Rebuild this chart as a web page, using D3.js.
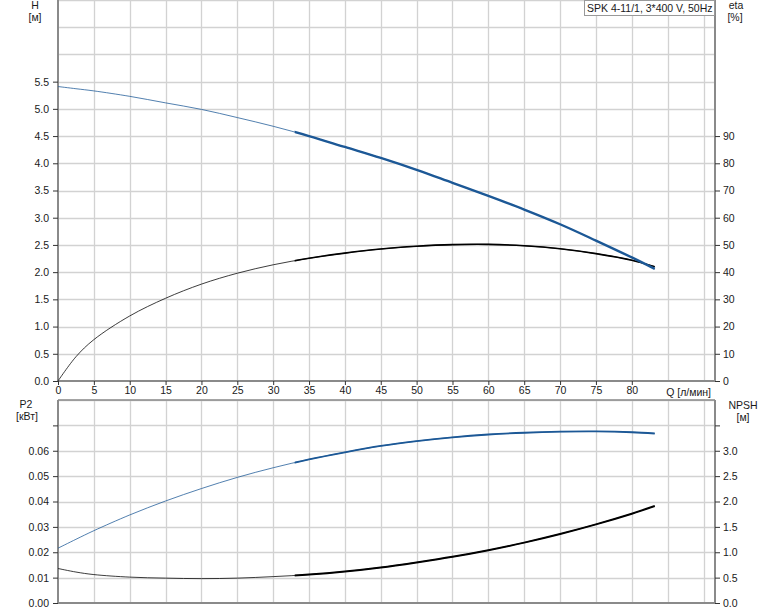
<!DOCTYPE html>
<html><head><meta charset="utf-8">
<script src="https://cdn.jsdelivr.net/npm/d3@7"></script>
<style>
html,body{margin:0;padding:0;background:#fff;}
svg{display:block;font-family:"Liberation Sans",Arial,sans-serif;}
</style></head>
<body>
<svg id="chart" width="774" height="611"></svg>
<script>
// ---- data ----
const flowQ = [0,2.5,5,10,15,20,25,30,35,40,45,50,55,60,65,70,75,80,83.2];
const headH = [5.41,5.37,5.33,5.23,5.11,4.99,4.84,4.68,4.50,4.30,4.10,3.88,3.64,3.40,3.15,2.88,2.58,2.27,2.06];
const effEta = [0,8.9,15.2,23.9,30.4,35.6,39.6,42.7,45.1,47.0,48.5,49.5,50.1,50.2,49.7,48.6,46.8,44.4,42.0];
const powerP2 = [0.0216,0.0251,0.0285,0.0347,0.0402,0.0451,0.0495,0.0533,0.0566,0.0594,0.0619,0.0638,0.0653,0.0664,0.0671,0.0675,0.0676,0.0673,0.0668];
const npshR = [0.68,0.61,0.56,0.51,0.49,0.48,0.49,0.52,0.56,0.62,0.70,0.80,0.91,1.04,1.19,1.36,1.55,1.76,1.91];
const qTicks = [0,5,10,15,20,25,30,35,40,45,50,55,60,65,70,75,80];
const qGrid = [5,10,15,20,25,30,35,40,45,50,55,60,65,70,75,80,85,90];
const hTicks = [0,0.5,1,1.5,2,2.5,3,3.5,4,4.5,5,5.5];
const hGrid = [0.5,1,1.5,2,2.5,3,3.5,4,4.5,5,5.5,6,6.5,7];
const etaTicks = [0,10,20,30,40,50,60,70,80,90];
const p2Ticks = [0,0.01,0.02,0.03,0.04,0.05,0.06,0.07];
const p2Labels = [0,0.01,0.02,0.03,0.04,0.05,0.06];
const npshTicks = [0,0.5,1,1.5,2,2.5,3,3.5];
const npshLabels = [0,0.5,1,1.5,2,2.5,3];
const legendText = "SPK 4-11/1, 3*400 V, 50Hz";
const qBestStart = 33;

const FS = "10.5px";
const svg = d3.select("#chart");
const L = 58, R = 715;
const x = d3.scaleLinear().domain([0,91.6]).range([L,R]);
const yH = d3.scaleLinear().domain([0,7]).range([381,0]);
const yEta = d3.scaleLinear().domain([0,140]).range([381,0]);
const yP = d3.scaleLinear().domain([0,0.08]).range([603,400]);
const yN = d3.scaleLinear().domain([0,4]).range([603,400]);

const gridCol = "#d2d2d2", axisCol = "#8a8a8a", txt = "#1a1a1a";

function panel(yTop, yBot, hGridVals, yScale){
  const g = svg.append("g");
  g.selectAll(".vg").data(qGrid).enter().append("line")
    .attr("x1",d=>Math.round(x(d))+0.5).attr("x2",d=>Math.round(x(d))+0.5)
    .attr("y1",yTop).attr("y2",yBot).attr("stroke",gridCol).attr("stroke-width",1.3);
  g.selectAll(".hg").data(hGridVals).enter().append("line")
    .attr("x1",L).attr("x2",R)
    .attr("y1",d=>Math.round(yScale(d))+0.5).attr("y2",d=>Math.round(yScale(d))+0.5)
    .attr("stroke",gridCol).attr("stroke-width",1.3);
  return g;
}
panel(0,381,hGrid,yH);
panel(400,603,[0.01,0.02,0.03,0.04,0.05,0.06,0.07,0.08],yP);

function axisStyle(g){
  g.selectAll("path").attr("stroke",axisCol).attr("stroke-width",2);
  g.selectAll("line").attr("stroke","#333");
  g.selectAll("text").attr("fill",txt).style("font-size",FS).style("font-family","Liberation Sans, Arial, sans-serif");
}
svg.append("g").attr("transform",`translate(${L},0)`)
  .call(d3.axisLeft(yH).tickValues(hTicks).tickFormat(d3.format(".1f")).tickSizeOuter(0).tickSize(5).tickPadding(4))
  .call(axisStyle).call(g=>g.select("path").attr("d","M0,0V381"));
svg.append("g").attr("transform",`translate(${R},0)`)
  .call(d3.axisRight(yEta).tickValues(etaTicks).tickFormat(d3.format("d")).tickSizeOuter(0).tickSize(5).tickPadding(3))
  .call(axisStyle).call(g=>g.select("path").attr("d","M0,0V381"));
svg.append("g").attr("transform","translate(0,381)")
  .call(d3.axisBottom(x).tickValues(qTicks).tickFormat(d3.format("d")).tickSizeOuter(0).tickSize(4).tickPadding(2))
  .call(axisStyle).call(g=>g.select("path").attr("d",`M${L},0H${R}`));
svg.append("text").attr("x",711).attr("y",396).attr("text-anchor","end")
  .attr("fill",txt).style("font-size",FS).text("Q [л/мин]");
svg.append("g").attr("transform",`translate(${L},0)`)
  .call(d3.axisLeft(yP).tickValues(p2Ticks).tickFormat(d=>p2Labels.includes(d)?d3.format(".2f")(d):"").tickSizeOuter(0).tickSize(5).tickPadding(4))
  .call(axisStyle).call(g=>g.select("path").attr("d","M0,400V603"));
svg.append("g").attr("transform",`translate(${R},0)`)
  .call(d3.axisRight(yN).tickValues(npshTicks).tickFormat(d=>npshLabels.includes(d)?d3.format(".1f")(d):"").tickSizeOuter(0).tickSize(5).tickPadding(3))
  .call(axisStyle).call(g=>g.select("path").attr("d","M0,400V603"));
svg.append("line").attr("x1",L).attr("x2",R).attr("y1",400).attr("y2",400).attr("stroke",axisCol).attr("stroke-width",1.5);
svg.append("line").attr("x1",L).attr("x2",R).attr("y1",603).attr("y2",603).attr("stroke",axisCol).attr("stroke-width",2);

function label(xp,yp,t){svg.append("text").attr("x",xp).attr("y",yp).attr("text-anchor","middle").attr("fill",txt).style("font-size",FS).text(t);}
label(35,9,"H"); label(35,21,"[м]");
label(736,9,"eta"); label(735,21,"[%]");
label(26,408,"P2"); label(27,420,"[кВт]");
label(743,409,"NPSH"); label(743,421,"[м]");

const defs = svg.append("defs");
defs.append("clipPath").attr("id","best").append("rect")
  .attr("x",x(qBestStart)).attr("y",0).attr("width",R-x(qBestStart)).attr("height",611);
const idx = d3.range(flowQ.length);
function curve(vals, yScale, color, thin, thick){
  const line = d3.line().x(i=>x(flowQ[i])).y(i=>yScale(vals[i])).curve(d3.curveCatmullRom.alpha(0.5));
  svg.append("path").attr("d",line(idx)).attr("fill","none").attr("stroke",color).attr("stroke-width",thin).attr("stroke-opacity",0.85);
  svg.append("path").attr("d",line(idx)).attr("fill","none").attr("stroke",color).attr("stroke-width",thick).attr("clip-path","url(#best)");
}
curve(effEta, yEta, "#000", 0.9, 1.6);
curve(headH, yH, "#1c5896", 0.9, 2.4);
curve(npshR, yN, "#000", 0.9, 2.0);
curve(powerP2, yP, "#1c5896", 0.9, 1.8);

const lg = svg.append("g");
lg.append("rect").attr("x",584.5).attr("y",0.5).attr("width",130).attr("height",15).attr("fill","#fff").attr("stroke","#999");
lg.append("text").attr("x",587).attr("y",11.5).attr("fill",txt).style("font-size",FS).text(legendText);
</script>
</body></html>
